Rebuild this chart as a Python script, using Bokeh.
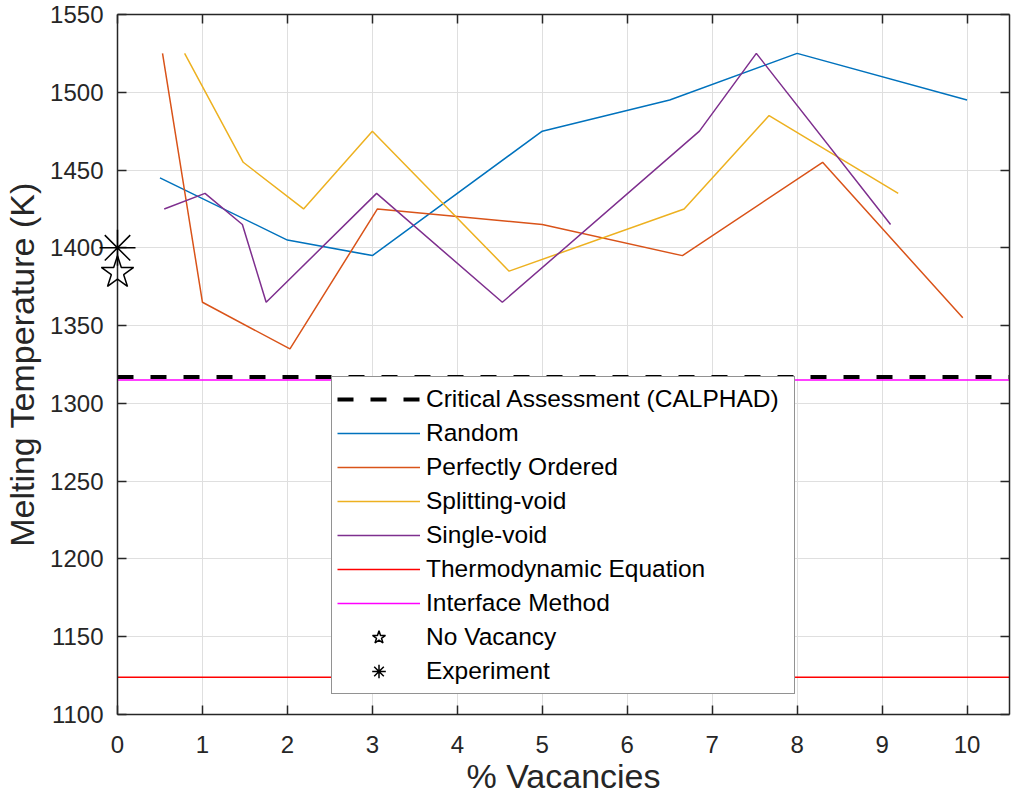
from bokeh.plotting import figure
from bokeh.models import Range1d, LinearAxis, SingleIntervalTicker, Legend, LegendItem
from bokeh.embed import file_html
from bokeh.resources import INLINE

# ---- data ----
pct_random = [0.5, 2, 3, 5, 6.5, 8, 10]
tm_random = [1445, 1405, 1395, 1475, 1495, 1525, 1495]

pct_ordered = [0.53, 1, 2.03, 3.06, 5, 6.65, 8.3, 9.95]
tm_ordered = [1525, 1365, 1335, 1425, 1415, 1395, 1455, 1355]

pct_split = [0.79, 1.48, 2.19, 3, 4.61, 6.67, 7.67, 9.19]
tm_split = [1525, 1455, 1425, 1475, 1385, 1425, 1485, 1435]

pct_single = [0.55, 1.03, 1.47, 1.75, 3.05, 4.53, 6.85, 7.52, 9.1]
tm_single = [1425, 1435, 1415, 1365, 1435, 1365, 1475, 1525, 1415]

ref_pct = [0, 10.5]
tm_calphad = [1317, 1317]
tm_thermo = [1124, 1124]
tm_interface = [1315, 1315]

novac_pct = [0]
novac_tm = [1384]
exp_pct = [0]
exp_tm = [1400]

legend_labels = ["Critical Assessment (CALPHAD)", "Random", "Perfectly Ordered",
                 "Splitting-void", "Single-void", "Thermodynamic Equation",
                 "Interface Method", "No Vacancy", "Experiment"]

FONT = "Liberation Sans"
AX = "#262626"

p = figure(width=1013, height=797, output_backend="svg", toolbar_location=None,
           x_range=Range1d(0, 10.5), y_range=Range1d(1100, 1550),
           min_border_left=117, min_border_right=3, min_border_top=14,
           min_border_bottom=82, x_axis_label="% Vacancies",
           y_axis_label="Melting Temperature (K)")
p.outline_line_color = None
p.background_fill_color = "white"
p.border_fill_color = "white"

xt = SingleIntervalTicker(interval=1)
yt = SingleIntervalTicker(interval=50)
p.xaxis.ticker = xt
p.yaxis.ticker = yt
p.xgrid.ticker = xt
p.ygrid.ticker = yt
for g in (p.xgrid, p.ygrid):
    g.grid_line_color = "#dfdfdf"
    g.grid_line_width = 1


def style_axis(ax):
    ax.axis_line_color = AX
    ax.axis_line_width = 1.5
    ax.major_tick_in = 9
    ax.major_tick_out = 0
    ax.major_tick_line_color = AX
    ax.major_tick_line_width = 1.5
    ax.minor_tick_line_color = None
    ax.major_label_text_font = FONT
    ax.major_label_text_font_size = "24px"
    ax.major_label_text_color = AX
    ax.axis_label_text_font = FONT
    ax.axis_label_text_font_size = "34px"
    ax.axis_label_text_font_style = "normal"
    ax.axis_label_text_color = AX


for ax in (p.xaxis[0], p.yaxis[0]):
    style_axis(ax)
p.xaxis.major_label_standoff = 17
p.xaxis.axis_label_standoff = 1
p.yaxis.major_label_standoff = 10
p.yaxis.axis_label_standoff = 6

top = LinearAxis(ticker=xt)
right = LinearAxis(ticker=yt)
for ax in (top, right):
    style_axis(ax)
    ax.major_label_text_font_size = "0px"
    ax.major_label_text_color = None
    ax.major_label_standoff = 0
p.add_layout(top, "above")
p.add_layout(right, "right")

# ---- glyphs ----
r_interface = p.line(ref_pct, tm_interface, line_color="#FF00FF", line_width=1.5)
r_thermo = p.line(ref_pct, tm_thermo, line_color="#FF0000", line_width=1.5)
r_calphad = p.line(ref_pct, tm_calphad, line_color="black", line_width=4, line_dash="16 17")
r_random = p.line(pct_random, tm_random, line_color="#0072BD", line_width=1.5)
r_ordered = p.line(pct_ordered, tm_ordered, line_color="#D95319", line_width=1.5)
r_split = p.line(pct_split, tm_split, line_color="#EDB120", line_width=1.5)
r_single = p.line(pct_single, tm_single, line_color="#7E2F8E", line_width=1.5)
r_novac = p.scatter(novac_pct, novac_tm, marker="star", size=34, fill_color=None,
                    line_color="black", line_width=1.5, level="overlay")
r_exp = p.scatter(exp_pct, exp_tm, marker="asterisk", size=36,
                  line_color="black", line_width=1.5, level="overlay")

rends = [r_calphad, r_random, r_ordered, r_split, r_single, r_thermo,
         r_interface, r_novac, r_exp]
legend = Legend(items=[LegendItem(label=l, renderers=[r]) for l, r in zip(legend_labels, rends)],
                location=(214, 20))
legend.glyph_width = 83
legend.glyph_height = 34
legend.label_height = 34
legend.label_width = 363
legend.spacing = 0
legend.padding = 5
legend.margin = 0
legend.label_standoff = 6
legend.label_text_font = FONT
legend.label_text_font_size = "24.5px"
legend.label_text_color = "black"
legend.border_line_color = AX
legend.border_line_width = 1
legend.background_fill_color = "white"
legend.background_fill_alpha = 1
p.add_layout(legend)

open("out.html", "w").write(file_html(p, INLINE))
